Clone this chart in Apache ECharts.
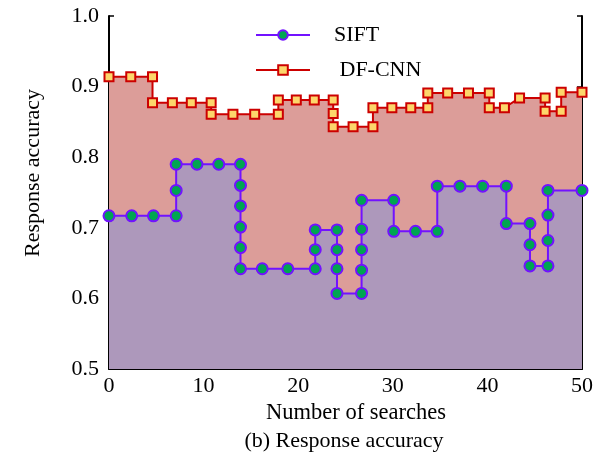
<!DOCTYPE html>
<html>
<head>
<meta charset="utf-8">
<script src="https://cdn.jsdelivr.net/npm/echarts@6/dist/echarts.min.js"></script>
<style>
  html, body { margin: 0; padding: 0; background: #fff; }
  #main { width: 605px; height: 456px; }
</style>
</head>
<body>
<div id="main"></div>
<script>
// DF-CNN points (x = number of searches, y = response accuracy)
var dfX = [0, 2.3, 4.6, 4.6, 6.7, 8.7, 10.8, 10.8, 13.1, 15.4, 17.9, 17.9, 19.8, 21.7, 23.7, 23.7, 23.7,
    25.8, 27.9, 27.9, 29.9, 31.9, 33.7, 33.7, 35.8, 38.0, 40.2, 40.2, 41.8, 43.4, 46.1, 46.1, 47.8, 47.8, 50];
var dfY = [0.914, 0.914, 0.914, 0.877, 0.877, 0.877, 0.877, 0.861, 0.861, 0.861, 0.861, 0.881, 0.881, 0.881, 0.881, 0.862, 0.843,
    0.843, 0.843, 0.870, 0.870, 0.870, 0.870, 0.891, 0.891, 0.891, 0.891, 0.870, 0.870, 0.884, 0.884, 0.865, 0.865, 0.892, 0.892];

// SIFT points
var sfX = [0, 2.4, 4.7, 7.1, 7.1, 7.1, 9.3, 11.6, 13.9, 13.9, 13.9, 13.9, 13.9, 13.9, 16.2, 18.9, 21.8, 21.8, 21.8,
    24.1, 24.1, 24.1, 24.1, 26.7, 26.7, 26.7, 26.7, 26.7, 30.1, 30.1, 32.4, 34.7, 34.7, 37.1, 39.5, 42.0, 42.0,
    44.5, 44.5, 44.5, 46.4, 46.4, 46.4, 46.4, 50];
var sfY = [0.717, 0.717, 0.717, 0.717, 0.753, 0.790, 0.790, 0.790, 0.790, 0.760, 0.731, 0.701, 0.672, 0.642, 0.642, 0.642, 0.642, 0.669, 0.697,
    0.697, 0.669, 0.642, 0.607, 0.607, 0.640, 0.669, 0.698, 0.739, 0.739, 0.695, 0.695, 0.695, 0.759, 0.759, 0.759, 0.759, 0.706,
    0.706, 0.676, 0.646, 0.646, 0.682, 0.718, 0.753, 0.753];

var seriesNames = ['SIFT', 'DF-CNN'];
var xTicks = [0, 10, 20, 30, 40, 50];
var yTicks = [0.5, 0.6, 0.7, 0.8, 0.9, 1.0];

function pairs(xs, ys) {
    var out = [];
    for (var i = 0; i < xs.length; i++) out.push([xs[i], ys[i]]);
    return out;
}

var font = 'Liberation Serif, Times New Roman, serif';
var myChart = echarts.init(document.getElementById('main'));

var option = {
    animation: false,
    backgroundColor: '#fff',
    textStyle: { fontFamily: font, color: '#000' },
    grid: { left: 109, right: 23, top: 16, bottom: 87 },
    legend: {
        data: seriesNames,
        orient: 'vertical',
        left: 250,
        top: 19,
        itemWidth: 54,
        itemHeight: 12,
        itemGap: 13,
        formatter: function (name) { return name === 'DF-CNN' ? ' ' + name : name; },
        textStyle: { fontFamily: font, fontSize: 22, color: '#000', padding: [0, 0, 0, 19] }
    },
    xAxis: {
        type: 'value',
        min: xTicks[0],
        max: xTicks[xTicks.length - 1],
        interval: 10,
        name: 'Number of searches',
        nameLocation: 'middle',
        nameGap: 32,
        nameTextStyle: { fontFamily: font, fontSize: 22.5, color: '#000', padding: [0, 0, 0, 21] },
        splitLine: { show: false },
        axisLine: { show: true, lineStyle: { color: '#000', width: 2 } },
        axisTick: { show: true, inside: true, length: 5, lineStyle: { color: '#000', width: 1.5 } },
        axisLabel: { fontFamily: font, fontSize: 22, color: '#000', margin: 6 }
    },
    yAxis: [{
        type: 'value',
        min: yTicks[0],
        max: yTicks[yTicks.length - 1],
        interval: 0.1,
        splitLine: { show: false },
        axisLine: { show: true, lineStyle: { color: '#000', width: 2 } },
        axisTick: { show: true, inside: true, length: 5, lineStyle: { color: '#000', width: 1.5 } },
        axisLabel: {
            fontFamily: font, fontSize: 22, color: '#000', margin: 10,
            formatter: function (v) { return v.toFixed(1); }
        }
    }, {
        type: 'value',
        position: 'right',
        min: yTicks[0],
        max: yTicks[yTicks.length - 1],
        interval: 0.1,
        splitLine: { show: false },
        axisLine: { show: true, lineStyle: { color: '#000', width: 2 } },
        axisTick: { show: true, inside: true, length: 5, lineStyle: { color: '#000', width: 1.5 } },
        axisLabel: { show: false }
    }],
    graphic: [{
        type: 'text',
        x: 33, y: 173,
        rotation: Math.PI / 2,
        style: {
            text: 'Response accuracy',
            font: '22px ' + font,
            fill: '#000',
            align: 'center',
            verticalAlign: 'middle'
        }
    }, {
        type: 'text',
        x: 344, y: 441,
        style: {
            text: '(b) Response accuracy',
            font: '22px ' + font,
            fill: '#000',
            align: 'center',
            verticalAlign: 'middle'
        }
    }],
    series: [{
        name: 'DF-CNN',
        type: 'line',
        data: pairs(dfX, dfY),
        clip: false,
        symbol: 'rect',
        symbolSize: 9,
        lineStyle: { color: '#cc0000', width: 2 },
        itemStyle: { color: '#fdd66b', borderColor: '#cc0000', borderWidth: 2 },
        areaStyle: { color: '#dc9d99', opacity: 1 },
        z: 2
    }, {
        name: 'SIFT',
        type: 'line',
        data: pairs(sfX, sfY),
        clip: false,
        symbol: 'circle',
        symbolSize: 11,
        lineStyle: { color: '#7212ff', width: 2 },
        itemStyle: { color: '#00a651', borderColor: '#7212ff', borderWidth: 2 },
        areaStyle: { color: '#ad98bb', opacity: 1 },
        z: 3
    }]
};
myChart.setOption(option);
</script>
</body>
</html>
